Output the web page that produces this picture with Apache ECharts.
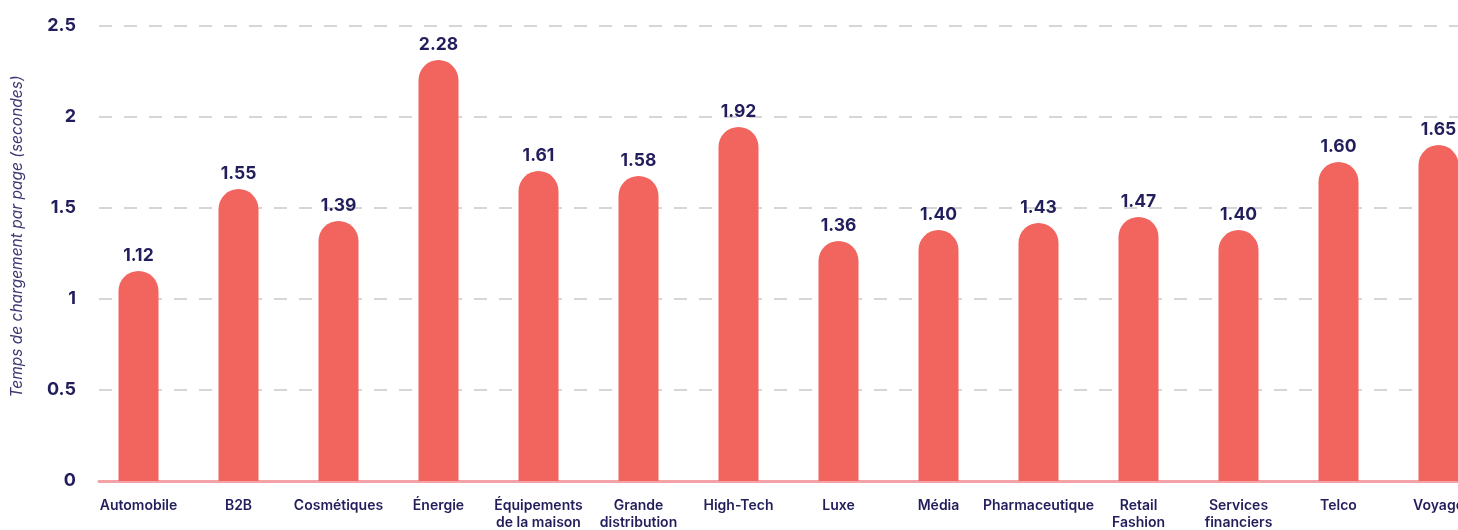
<!DOCTYPE html>
<html>
<head>
<meta charset="utf-8">
<style>
html,body{margin:0;padding:0;background:#fff;}
#c{width:1458px;height:530px;}
</style>
<script src="https://cdn.jsdelivr.net/npm/echarts@6/dist/echarts.min.js"></script>
</head>
<body>
<div id="c"></div>
<script>
const categories = ["Automobile","B2B","Cosmétiques","Énergie","Équipements\nde la maison","Grande\ndistribution","High-Tech","Luxe","Média","Pharmaceutique","Retail\nFashion","Services\nfinanciers","Telco","Voyage"];
const barValues = [1.154,1.604,1.429,2.313,1.703,1.676,1.945,1.319,1.379,1.418,1.451,1.379,1.753,1.846];
const labelTexts = ["1.12","1.55","1.39","2.28","1.61","1.58","1.92","1.36","1.40","1.43","1.47","1.40","1.60","1.65"];
const yTicks = [0,0.5,1,1.5,2,2.5];
const yName = "Temps de chargement par page (secondes)";

const navy = '#221e5c';
const font = 'Inter, "Noto Sans", sans-serif';
const chart = echarts.init(document.getElementById('c'));
chart.setOption({
  animation:false,
  grid:[
    {left:99,right:0,top:26,bottom:49,outerBoundsMode:'none',containLabel:false},
    {left:88.5,width:1400,top:26,bottom:49,outerBoundsMode:'none',containLabel:false}
  ],
  xAxis:[
    {gridIndex:0,type:'value',min:0,max:1,axisLabel:{show:false},axisTick:{show:false},splitLine:{show:false},
     axisLine:{show:true,lineStyle:{color:'#f3a2a8',width:3}}},
    {gridIndex:1,type:'category',data:categories,axisLine:{show:false},axisTick:{show:false},
     axisLabel:{interval:0,margin:16,fontFamily:font,fontSize:14,fontWeight:600,color:navy,lineHeight:17}}
  ],
  yAxis:[
    {gridIndex:0,type:'value',min:0,max:2.5,interval:0.5,
     name:yName,nameLocation:'middle',nameGap:74,
     nameTextStyle:{fontFamily:font,fontSize:15.5,fontStyle:'italic',color:'#3b3872',padding:[0,0,0,34]},
     axisLine:{show:false},axisTick:{show:false},
     axisLabel:{margin:23,fontFamily:font,fontSize:18,fontWeight:700,color:navy,
       formatter:v=>{const t=yTicks.find(x=>Math.abs(x-v)<1e-9);return t===undefined?'':String(t);}},
     splitLine:{show:true,lineStyle:{color:'#d6d6d6',width:2,type:[13,12]}}},
    {gridIndex:1,type:'value',min:0,max:2.5,show:false,splitLine:{show:false}}
  ],
  series:[{
    type:'bar',xAxisIndex:1,yAxisIndex:1,data:barValues,barWidth:40,z:1,
    itemStyle:{color:'#f2655e',borderRadius:[20,20,0,0]},
    label:{show:true,position:'top',distance:6,fontFamily:font,fontSize:17.5,fontWeight:700,color:navy,
      formatter:p=>labelTexts[p.dataIndex]}
  }]
});
</script>
</body>
</html>
